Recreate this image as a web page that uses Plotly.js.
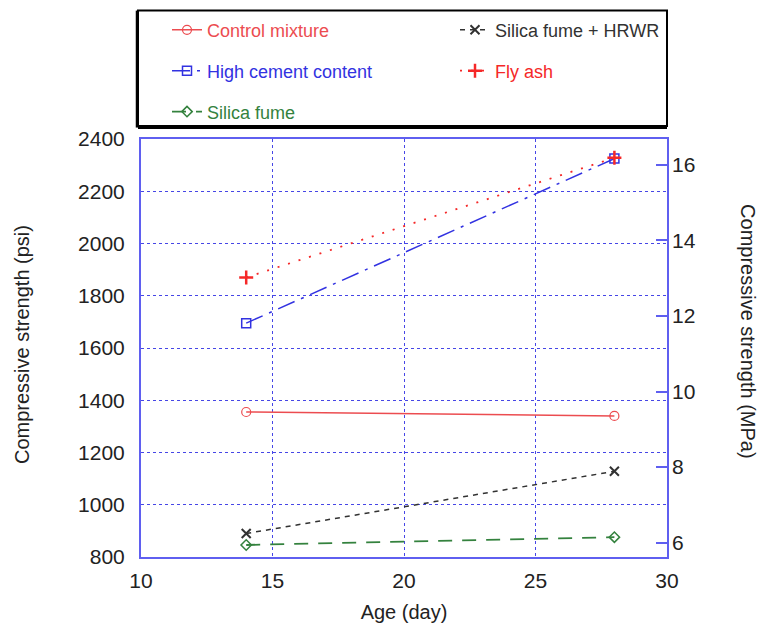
<!DOCTYPE html>
<html>
<head>
<meta charset="utf-8">
<script src="https://cdn.plot.ly/plotly-3.0.1.min.js"></script>
<style>html,body{margin:0;padding:0;background:#fff;}#chart{width:760px;height:627px;}</style>
</head>
<body>
<div id="chart"></div>
<script>
// ---- data ----
const ages = [14, 28];
const controlMixture = [1355, 1340];
const highCement = [1695, 2325];
const silicaFume = [846, 876];
const silicaFumeHRWR = [890, 1128];
const flyAsh = [1870, 2328];

const xTicks = [10, 15, 20, 25, 30];
const psiTicks = [800, 1000, 1200, 1400, 1600, 1800, 2000, 2200, 2400];
const mpaTicks = [6, 8, 10, 12, 14, 16];

const names = {
  control: 'Control mixture',
  hrwr: 'Silica fume + HRWR',
  cement: 'High cement content',
  fly: 'Fly ash',
  silica: 'Silica fume'
};
const xTitle = 'Age (day)';
const yTitle = 'Compressive strength (psi)';
const y2Title = 'Compressive strength (MPa)';

const cRed = 'rgb(236,76,80)';
const cBlue = 'rgb(50,50,225)';
const cGreen = 'rgb(52,130,62)';
const cBlack = 'rgb(50,50,50)';
const cFly = 'rgb(245,40,40)';
const axisBlue = 'rgb(95,95,240)';
const gridBlue = 'rgb(70,70,230)';
const FONT = 'Liberation Sans, Arial, sans-serif';

function lbl(t, c) { return '<span style="color:' + c + '">' + t + '</span>'; }

const traces = [
  {x: ages, y: controlMixture, name: lbl(names.control, cRed), legend: 'legend', legendgroup: 'a',
   mode: 'lines+markers', line: {color: cRed, width: 1.5},
   marker: {symbol: 'circle-open', size: 9, color: cRed, line: {width: 1.2}}},
  {x: ages, y: silicaFumeHRWR, name: lbl(names.hrwr, cBlack), legend: 'legend2', legendgroup: 'd',
   mode: 'lines+markers', line: {color: cBlack, width: 1.5, dash: '5px,5px'},
   marker: {symbol: 'x-thin-open', size: 9, color: cBlack, line: {width: 2, color: cBlack}}},
  {x: ages, y: highCement, name: lbl(names.cement, cBlue), legend: 'legend', legendgroup: 'b',
   mode: 'lines+markers', line: {color: cBlue, width: 1.5, dash: '18px,7px,3px,7px'},
   marker: {symbol: 'square-open', size: 9, color: cBlue, line: {width: 1.5}}},
  {x: ages, y: flyAsh, name: lbl(names.fly, cFly), legend: 'legend2', legendgroup: 'e',
   mode: 'lines+markers', line: {color: cFly, width: 1.8, dash: '2px,9px'},
   marker: {symbol: 'cross-thin-open', size: 10, color: cFly, line: {width: 2.5, color: cFly}}},
  {x: ages, y: silicaFume, name: lbl(names.silica, cGreen), legend: 'legend', legendgroup: 'c',
   mode: 'lines+markers', line: {color: cGreen, width: 1.8, dash: '14px,10px'},
   marker: {symbol: 'diamond-open', size: 8, color: cGreen, line: {width: 1.5}}},
  // invisible trace to activate the MPa axis
  {x: [ages[0]], y: [mpaTicks[0]], yaxis: 'y2', mode: 'markers', marker: {opacity: 0}, showlegend: false, hoverinfo: 'skip'}
];

// plot box in pixels
const L = 141, R = 667, T = 137, B = 557;
const W = 760, H = 627;
const pw = R - L, ph = B - T;
const px = v => (v - L) / pw;
const py = v => (B - v) / ph;

const psiPerMpa = 144.75, mpaOffset = -14;
const mpaRange = [(psiTicks[0] - mpaOffset) / psiPerMpa, (psiTicks[psiTicks.length - 1] - mpaOffset) / psiPerMpa];

const legendCommon = {
  xanchor: 'left', yanchor: 'top', orientation: 'v',
  bgcolor: 'rgba(0,0,0,0)', borderwidth: 0, tracegroupgap: 14.5, traceorder: 'grouped',
  font: {size: 18, family: FONT}
};

const layout = {
  width: W, height: H,
  margin: {l: L, r: W - R, t: T, b: H - B, pad: 0},
  paper_bgcolor: '#fff', plot_bgcolor: '#fff',
  font: {family: FONT, color: '#222', size: 16},
  showlegend: true,
  xaxis: {
    range: [10, 30], tickvals: xTicks, ticks: '', showline: true, mirror: true,
    linecolor: axisBlue, linewidth: 2, showgrid: true, gridcolor: gridBlue, griddash: 'dot', gridwidth: 1,
    zeroline: false, tickfont: {size: 21, color: '#222'}, ticklabelstandoff: 4,
    title: {text: xTitle, font: {size: 20, color: '#222'}, standoff: 14}
  },
  yaxis: {
    range: [800, 2400], tickvals: psiTicks, ticks: '', showline: true, mirror: true,
    linecolor: axisBlue, linewidth: 2, showgrid: true, gridcolor: gridBlue, griddash: 'dot', gridwidth: 1,
    zeroline: false, tickfont: {size: 21, color: '#222'}, ticklabelstandoff: 10
  },
  yaxis2: {
    overlaying: 'y', side: 'right', range: mpaRange, tickvals: mpaTicks,
    ticks: 'inside', ticklen: 11, tickwidth: 2, tickcolor: axisBlue,
    showgrid: false, zeroline: false, showline: false, tickfont: {size: 21, color: '#222'}, ticklabelstandoff: 4
  },
  legend: Object.assign({x: px(167), y: py(9)}, legendCommon),
  legend2: Object.assign({x: px(455), y: py(9)}, legendCommon),
  shapes: [
    {type: 'rect', xref: 'paper', yref: 'paper', x0: px(138), x1: px(667), y0: py(124), y1: py(8),
     line: {color: '#000', width: 2}, fillcolor: 'rgba(0,0,0,0)', layer: 'above'},
    {type: 'line', xref: 'paper', yref: 'paper', x0: px(138), x1: px(667), y0: py(125.5), y1: py(125.5),
     line: {color: '#000', width: 3}, layer: 'above'},
    {type: 'line', xref: 'paper', yref: 'paper', x0: px(137), x1: px(137), y0: py(8), y1: py(125.5),
     line: {color: '#000', width: 2.5}, layer: 'above'}
  ],
  annotations: [
    {text: yTitle, xref: 'paper', yref: 'paper', x: px(22), y: py(344), xanchor: 'center', yanchor: 'middle',
     showarrow: false, textangle: -90, font: {size: 20, color: '#222', family: FONT}},
    {text: y2Title, xref: 'paper', yref: 'paper', x: px(748), y: py(330), xanchor: 'center', yanchor: 'middle',
     showarrow: false, textangle: 90, font: {size: 20, color: '#222', family: FONT}}
  ]
};

Plotly.newPlot('chart', traces, layout, {displayModeBar: false, staticPlot: true});
</script>
</body>
</html>
